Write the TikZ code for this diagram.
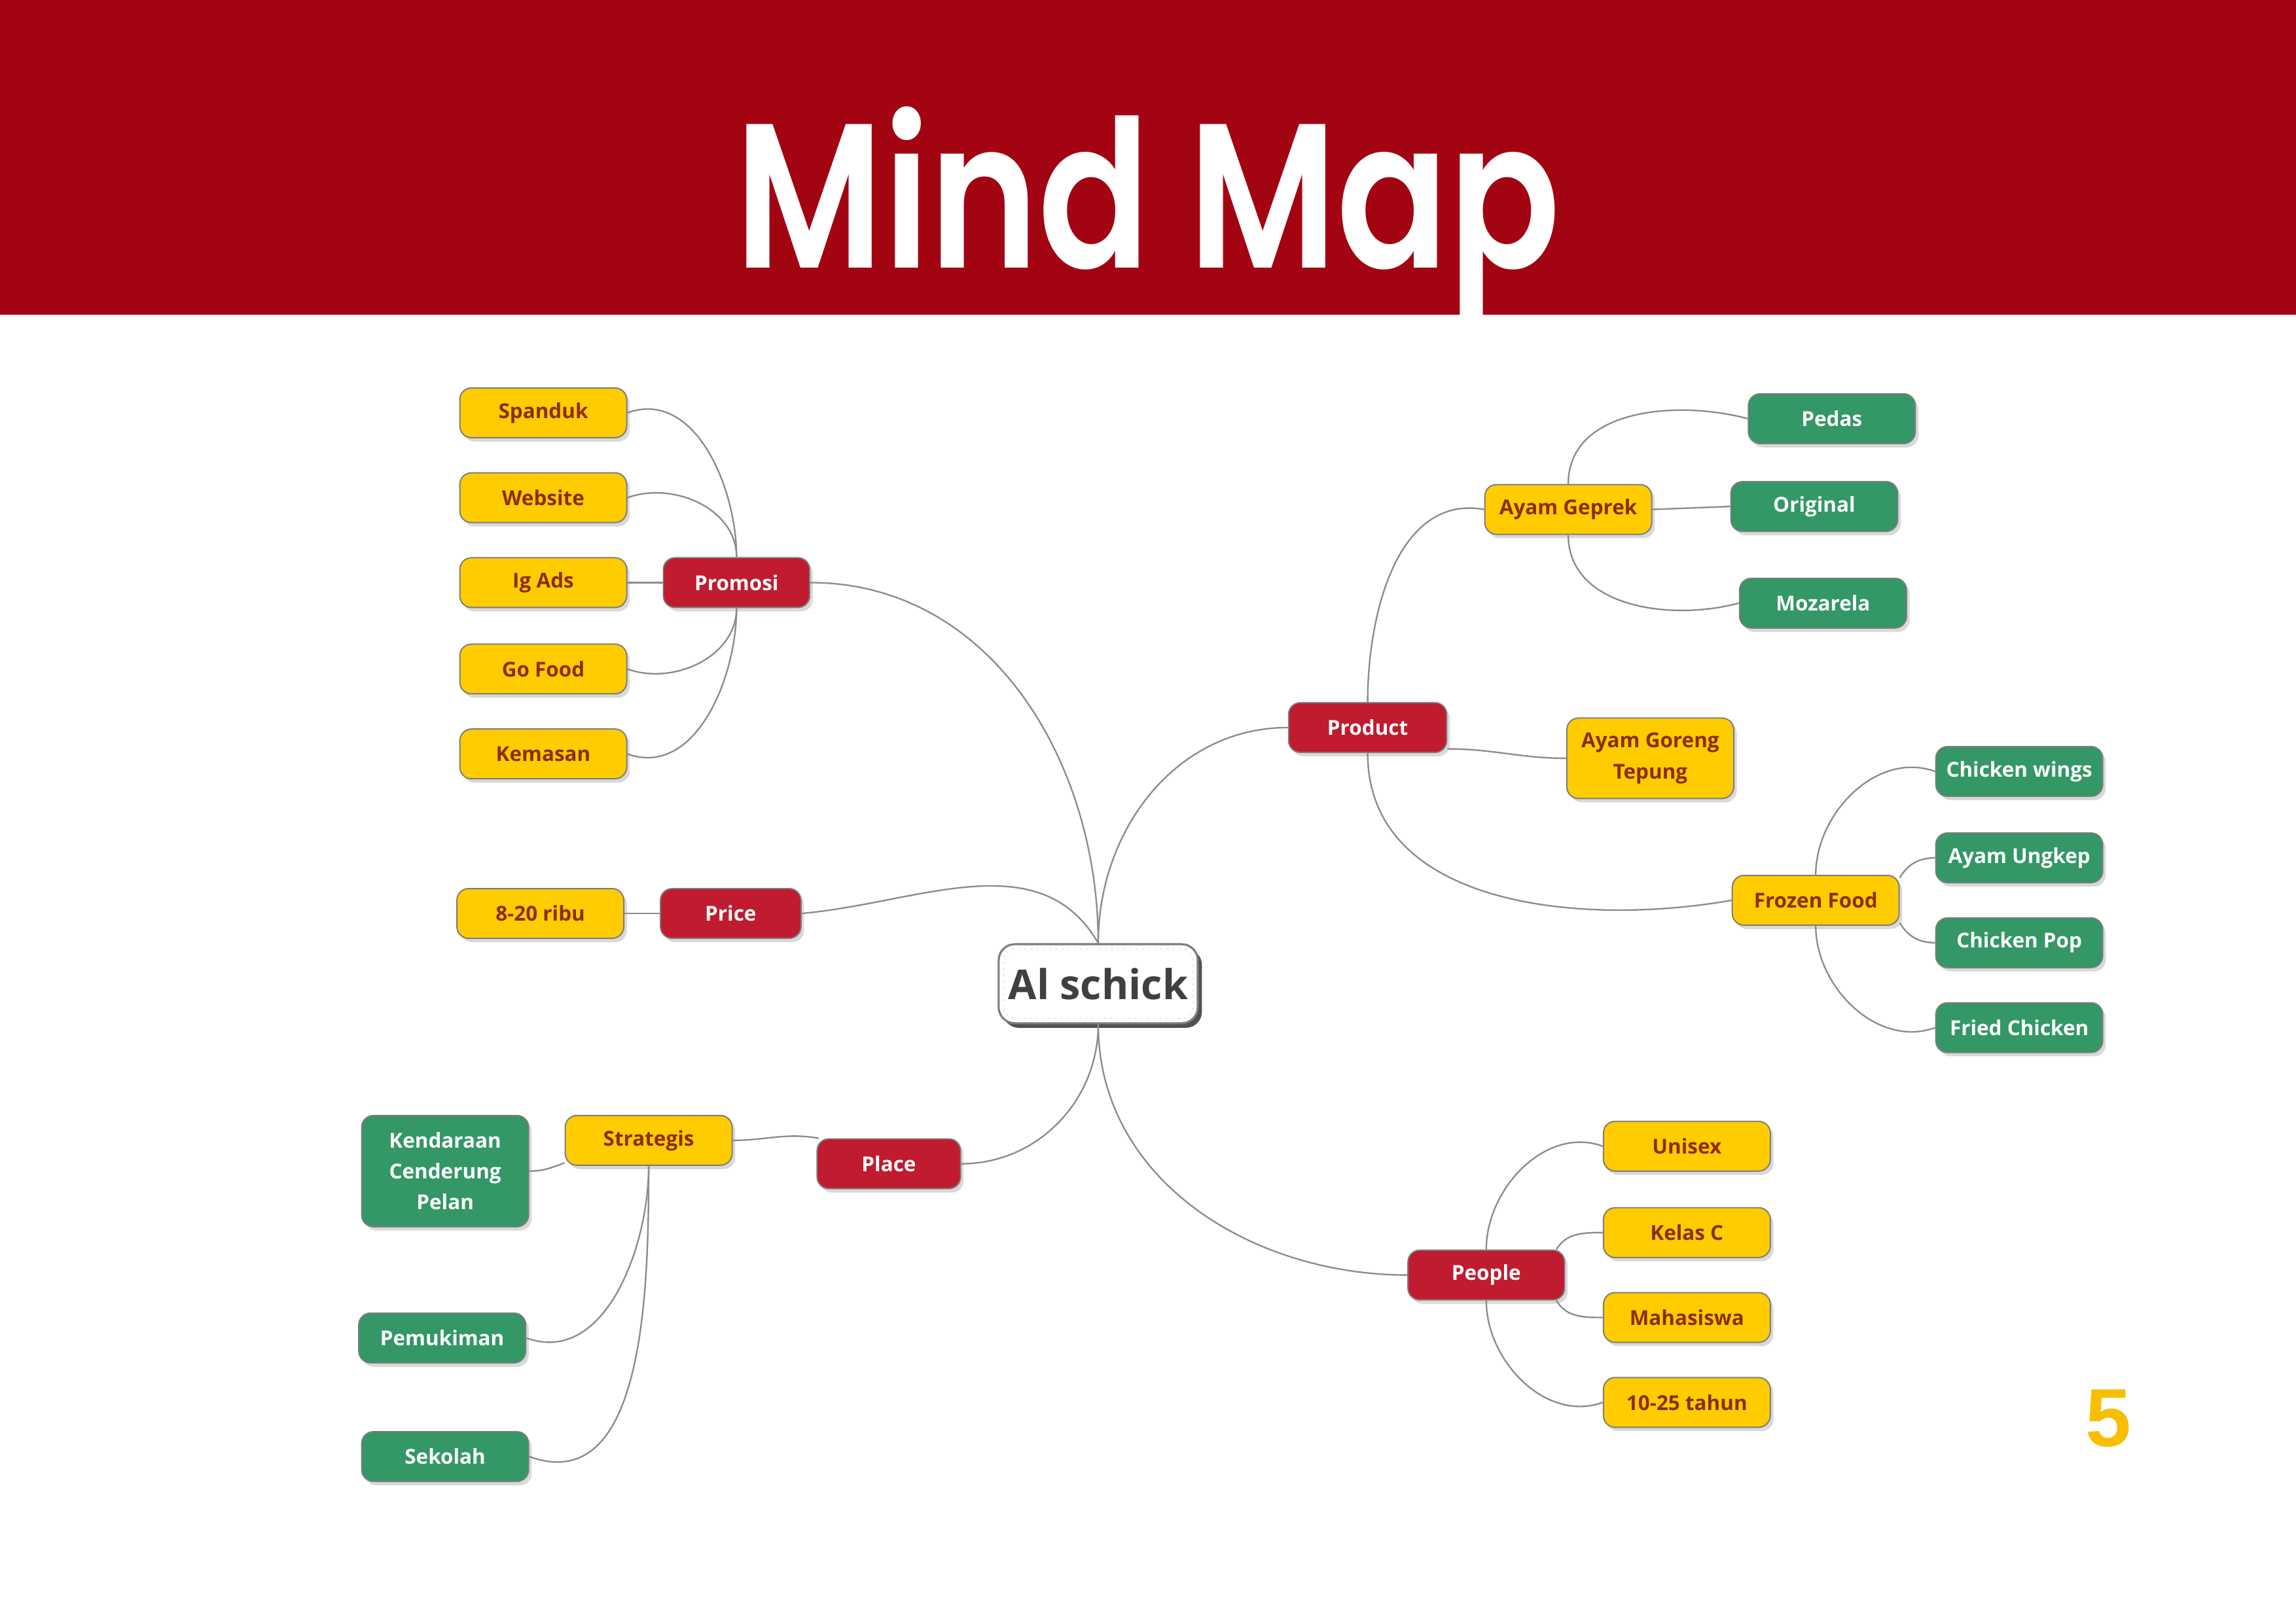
\documentclass[tikz,border=0pt]{standalone}
\usepackage{fontspec}
\setmainfont{Open Sans}
\newfontfamily\titlefont{Poppins}[BoldFont={* SemiBold}]
\newfontfamily\numfont{Liberation Sans}
\usetikzlibrary{calc,shadows}
\definecolor{bandred}{RGB}{163,4,18}
\definecolor{mmred}{RGB}{192,27,46}
\definecolor{mmyellow}{RGB}{255,204,0}
\definecolor{mmbrown}{RGB}{140,45,0}
\definecolor{mmgreen}{RGB}{51,151,102}
\definecolor{boxedge}{RGB}{125,125,125}
\definecolor{linkgray}{RGB}{140,140,140}
\definecolor{hubtext}{RGB}{64,64,64}
\definecolor{pageyellow}{RGB}{248,190,0}

\begin{document}
\begin{tikzpicture}[x=0.02cm,y=0.02cm,
  box/.style={draw=boxedge,line width=0.5pt,rounded corners=0.16cm,minimum width=2.28cm,minimum height=0.68cm,inner sep=2pt,align=center,font=\fontsize{8}{12}\selectfont\bfseries,drop shadow={shadow xshift=1.2pt,shadow yshift=-1.5pt,opacity=0.3}},
  ybox/.style={box,fill=mmyellow,text=mmbrown},
  gbox/.style={box,fill=mmgreen,text=white},
  rbox/.style={box,fill=mmred,text=white,minimum width=2cm},
  hub/.style={draw=boxedge,line width=0.8pt,fill=white,rounded corners=0.22cm,minimum width=2.72cm,minimum height=1.08cm,font=\fontsize{16}{18}\selectfont\bfseries,text=hubtext,drop shadow={shadow xshift=1.6pt,shadow yshift=-1.8pt,fill=black!80,opacity=0.85}},
  link/.style={draw=linkgray,line width=0.6pt}]
  \useasboundingbox (0,0) rectangle (1568,-1109);
  \fill[bandred] (0,0) rectangle (1568,-215);
  \node[anchor=base,text=white,inner sep=0pt,font=\titlefont\fontsize{80}{80}\selectfont\bfseries] (title) at (784,-183) {\scalebox{0.8}[1]{Mind Map}};
  \node[anchor=base,text=pageyellow,inner sep=0pt,font=\numfont\fontsize{32}{32}\selectfont\bfseries] (pnum) at (1440,-988) {5};

  % centre
  \node[hub] (hub) at (750,-672) {Al schick};
  \draw[dotted,gray!40,rounded corners=0.16cm] ($(hub.south west)+(4,4)$) rectangle ($(hub.north east)+(-4,-4)$);

  % promosi
  \node[rbox] (promosi) at (503,-398) {Promosi};
  \node[ybox] (spanduk) at (371,-282) {Spanduk};
  \node[ybox] (website) at (371,-340) {Website};
  \node[ybox] (igads) at (371,-398) {Ig Ads};
  \node[ybox] (gofood) at (371,-457) {Go Food};
  \node[ybox] (kemasan) at (371,-515) {Kemasan};

  % price
  \node[rbox,minimum width=1.92cm] (price) at (499,-624) {Price};
  \node[ybox] (ribu) at (369,-624) {8-20 ribu};

  % product
  \node[rbox,minimum width=2.16cm] (product) at (934,-497) {Product};
  \node[ybox] (geprek) at (1071,-348) {Ayam Geprek};
  \node[gbox] (pedas) at (1251,-286) {Pedas};
  \node[gbox] (original) at (1239,-346) {Original};
  \node[gbox] (mozarela) at (1245,-412) {Mozarela};
  \node[ybox,minimum height=1.1cm] (tepung) at (1127,-518) {Ayam Goreng\\Tepung};
  \node[ybox] (frozen) at (1240,-615) {Frozen Food};
  \node[gbox] (wings) at (1379,-527) {Chicken wings};
  \node[gbox] (ungkep) at (1379,-586) {Ayam Ungkep};
  \node[gbox] (pop) at (1379,-644) {Chicken Pop};
  \node[gbox] (fried) at (1379,-702) {Fried Chicken};

  % people
  \node[rbox,minimum width=2.14cm] (people) at (1015,-871) {People};
  \node[ybox] (unisex) at (1152,-783) {Unisex};
  \node[ybox] (kelas) at (1152,-842) {Kelas C};
  \node[ybox] (mhs) at (1152,-900) {Mahasiswa};
  \node[ybox] (usia) at (1152,-958) {10-25 tahun};

  % place
  \node[rbox,minimum width=1.96cm] (place) at (607,-795) {Place};
  \node[ybox] (strategis) at (443,-779) {Strategis};
  \node[gbox,minimum height=1.52cm] (kendaraan) at (304,-800) {Kendaraan\\Cenderung\\Pelan};
  \node[gbox] (pemukiman) at (302,-914) {Pemukiman};
  \node[gbox] (sekolah) at (304,-995) {Sekolah};

  % links
  \draw[link] (hub.north) to[out=90,in=0] (promosi.east);
  \draw[link] (hub.north) to[out=120,in=5] (price.east);
  \draw[link] (hub.north) to[out=90,in=180] (product.west);
  \draw[link] (hub.south) to[out=-90,in=180] (people.west);
  \draw[link] (hub.south) to[out=-90,in=0] (place.east);

  \draw[link] (promosi.north) to[out=90,in=20] (spanduk.east);
  \draw[link] (promosi.north) to[out=90,in=20] (website.east);
  \draw[link] (promosi.west) -- (igads.east);
  \draw[link] (promosi.south) to[out=-90,in=-20] (gofood.east);
  \draw[link] (promosi.south) to[out=-90,in=-20] (kemasan.east);

  \draw[link] (price.west) -- (ribu.east);

  \draw[link] (product.north) to[out=90,in=170] (geprek.west);
  \draw[link] (product.-15) to[out=0,in=180] (tepung.west);
  \draw[link] (product.south) to[out=-90,in=190] (frozen.west);
  \draw[link] (geprek.north) to[out=90,in=165] (pedas.west);
  \draw[link] (geprek.east) -- (original.west);
  \draw[link] (geprek.south) to[out=-90,in=195] (mozarela.west);
  \draw[link] (frozen.north) to[out=90,in=160] (wings.west);
  \draw[link] (frozen.15) to[out=60,in=180] (ungkep.west);
  \draw[link] (frozen.-15) to[out=-60,in=180] (pop.west);
  \draw[link] (frozen.south) to[out=-90,in=200] (fried.west);

  \draw[link] (people.north) to[out=90,in=160] (unisex.west);
  \draw[link] (people.20) to[out=60,in=180] (kelas.west);
  \draw[link] (people.-20) to[out=-60,in=180] (mhs.west);
  \draw[link] (people.south) to[out=-90,in=200] (usia.west);

  \draw[link] (place.160) to[out=170,in=0] (strategis.east);
  \draw[link] (strategis.195) to[out=200,in=0] (kendaraan.east);
  \draw[link] (strategis.south) to[out=-90,in=-20] (pemukiman.east);
  \draw[link] (strategis.south) to[out=-90,in=-20] (sekolah.east);
\end{tikzpicture}
\end{document}
